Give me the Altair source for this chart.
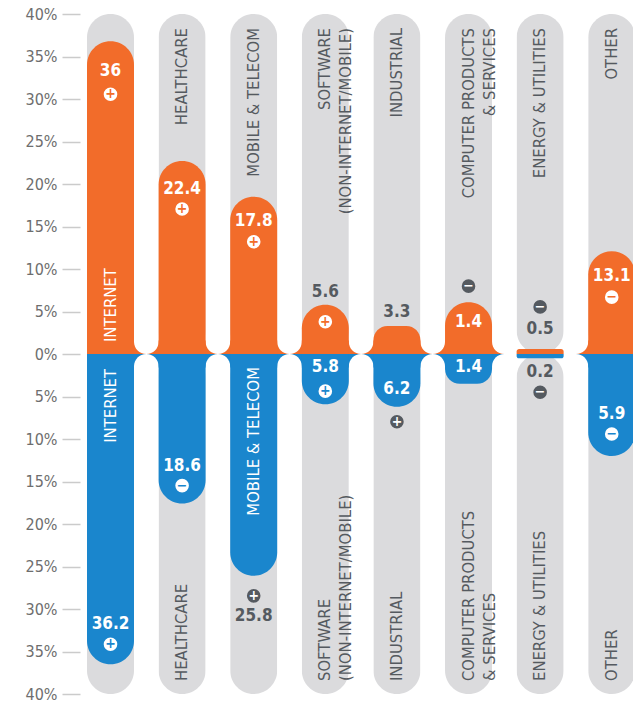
import altair as alt
import pandas as pd

# ---------------- data ----------------
categories = ["INTERNET", "HEALTHCARE", "MOBILE & TELECOM",
              "SOFTWARE\n(NON-INTERNET/MOBILE)", "INDUSTRIAL",
              "COMPUTER PRODUCTS\n& SERVICES", "ENERGY & UTILITIES", "OTHER"]
upper_values = [36, 22.4, 17.8, 5.6, 3.3, 1.4, 0.5, 13.1]
lower_values = [36.2, 18.6, 25.8, 5.8, 6.2, 1.4, 0.2, 5.9]
# bar lengths as drawn in the picture (percent)
upper_drawn = [36.8, 22.7, 18.5, 5.8, 3.3, 6.1, 0.6, 12.1]
lower_drawn = [36.5, 17.6, 26.1, 5.9, 6.2, 3.5, 0.5, 12.0]
upper_sign = ["+", "+", "+", "+", "", "−", "−", "−"]
lower_sign = ["+", "−", "+", "+", "+", "", "−", "−"]
tick_values = list(range(-40, 41, 5))

# ---------------- style ----------------
FONT = "'DejaVu Sans Condensed', 'Liberation Sans Narrow', Roboto, sans-serif"
ORANGE = "#F26C2A"
BLUE = "#1A86CD"
GRAY = "#DBDBDD"
DARK = "#555A60"
WHITE = "#FFFFFF"

X_MIN, X_MAX = -0.426, 7.297
Y_MIN, Y_MAX = -40, 40
PLOT_W, PLOT_H = 553, 680
PX = PLOT_W / (X_MAX - X_MIN)          # pixels per column step
PY = PLOT_H / (Y_MAX - Y_MIN)          # pixels per percent
COL_W = 47
HW = COL_W / 2 / PX                    # half column width in index units
GAP_R = (1 - 2 * HW) * PX / 2
BAND = 1.6

# label placement (screen px offset from bar end, + is down)
upper_text_dy = [30, 28, 24, -13, -14, 20, -20, 25]
upper_icon_dy = [53, 48, 45, 17, None, -16, -42, 46]
upper_text_in = [True, True, True, False, False, True, False, True]
upper_icon_in = [True, True, True, True, None, False, False, True]
lower_text_dy = [-40, -38, 40, -37, -18, -17, 14, -42]
lower_icon_dy = [-20, -18, 20, -13, 15, None, 34, -22]
lower_text_in = [True, True, False, True, True, True, False, True]
lower_icon_in = [True, True, False, True, False, None, False, True]

xs = alt.Scale(domain=[X_MIN, X_MAX], nice=False, zero=False)
ys = alt.Scale(domain=[Y_MIN, Y_MAX], nice=False, zero=False)

yaxis = alt.Axis(values=tick_values, labelExpr="abs(datum.value) + '%'", domain=False,
                 grid=False, ticks=True, tickSize=18, tickColor="#CBCBCB", tickWidth=1.5,
                 labelPadding=5, labelFontSize=16, labelColor="#6E6E6E", labelFont=FONT,
                 title=None)


def X(f):
    return alt.X(f, type="quantitative", scale=xs, axis=None)


def Y(f):
    return alt.Y(f, type="quantitative", scale=ys, axis=yaxis)


n = len(categories)
idx = list(range(n))

# gray stadium columns (upper and lower)
gray_rows = []
for i in idx:
    gray_rows.append({"x1": i - HW, "x2": i + HW, "y1": 0, "y2": Y_MAX})
    gray_rows.append({"x1": i - HW, "x2": i + HW, "y1": Y_MIN, "y2": 0})
gray_df = pd.DataFrame(gray_rows)

# fillet bands at the zero line
band_rows = []
for i in idx:
    lo = i - HW if i == 0 else i - 0.5
    hi = i + 0.5
    if upper_drawn[i] > 1:
        band_rows.append({"x1": lo, "x2": hi, "y1": 0, "y2": min(upper_drawn[i], BAND), "c": ORANGE})
    if lower_drawn[i] > 1:
        band_rows.append({"x1": lo, "x2": hi, "y1": -min(lower_drawn[i], BAND), "y2": 0, "c": BLUE})
band_df = pd.DataFrame(band_rows)

gap_rows = []
for g in range(n - 1):
    gap_rows.append({"x1": g + HW, "x2": g + 1 - HW, "y1": 0, "y2": Y_MAX})
    gap_rows.append({"x1": g + HW, "x2": g + 1 - HW, "y1": Y_MIN, "y2": 0})
gap_df = pd.DataFrame(gap_rows)

up_df = pd.DataFrame({"x1": [i - HW for i in idx], "x2": [i + HW for i in idx],
                      "y1": 0, "y2": upper_drawn})
lo_df = pd.DataFrame({"x1": [i - HW for i in idx], "x2": [i + HW for i in idx],
                      "y1": [-v for v in lower_drawn], "y2": 0})

# value labels and +/- icons
val_rows = []
icon_rows = []
for i in idx:
    val_rows.append({"i": i, "y": upper_drawn[i], "dy": upper_text_dy[i],
                     "t": f"{upper_values[i]:g}", "c": WHITE if upper_text_in[i] else DARK})
    val_rows.append({"i": i, "y": -lower_drawn[i], "dy": lower_text_dy[i],
                     "t": f"{lower_values[i]:g}", "c": WHITE if lower_text_in[i] else DARK})
    if upper_sign[i]:
        inside = upper_icon_in[i]
        icon_rows.append({"i": i, "y": upper_drawn[i], "dy": upper_icon_dy[i], "s": upper_sign[i],
                          "f": WHITE if inside else DARK, "sc": ORANGE if inside else WHITE})
    if lower_sign[i]:
        inside = lower_icon_in[i]
        icon_rows.append({"i": i, "y": -lower_drawn[i], "dy": lower_icon_dy[i], "s": lower_sign[i],
                          "f": WHITE if inside else DARK, "sc": BLUE if inside else WHITE})
val_df = pd.DataFrame(val_rows)
icon_df = pd.DataFrame(icon_rows)

# category labels
right_rows, left_rows = [], []
for i in idx:
    if i == 0:
        left_rows.append({"i": i, "y": 0, "dy": -12, "t": categories[i], "c": WHITE})
    else:
        right_rows.append({"i": i, "y": Y_MAX, "dy": 14, "t": categories[i], "c": DARK})
    if i == 0:
        right_rows.append({"i": i, "y": 0, "dy": 15, "t": categories[i], "c": WHITE})
    elif i == 2:
        right_rows.append({"i": i, "y": 0, "dy": 13, "t": categories[i], "c": WHITE})
    else:
        left_rows.append({"i": i, "y": Y_MIN, "dy": -13, "t": categories[i], "c": DARK})
right_df = pd.DataFrame(right_rows)
left_df = pd.DataFrame(left_rows)


def rect_layer(df, color_field=False, **kw):
    enc = dict(x=X("x1"), x2="x2", y=Y("y1"), y2="y2")
    if color_field:
        enc["color"] = alt.Color("c:N", scale=None)
    return alt.Chart(df).mark_rect(**kw).encode(**enc)


gray = rect_layer(gray_df, color=GRAY, cornerRadius=COL_W / 2)
bands = rect_layer(band_df, color_field=True)
gaps = rect_layer(gap_df, color=WHITE, cornerRadius=GAP_R)
up_bars = rect_layer(up_df, color=ORANGE, cornerRadiusTopLeft=COL_W / 2,
                     cornerRadiusTopRight=COL_W / 2)
lo_bars = rect_layer(lo_df, color=BLUE, cornerRadiusBottomLeft=COL_W / 2,
                     cornerRadiusBottomRight=COL_W / 2)


def placed(df):
    # anchor = bar end shifted by a pixel offset, converted to data units
    return alt.Chart(df).transform_calculate(yp=f"datum.y - datum.dy / {PY}")


def texts(df, **kw):
    return placed(df).mark_text(**kw).encode(
        x=X("i"), y=Y("yp"), text="t:N", color=alt.Color("c:N", scale=None))


values = texts(val_df, font=FONT, fontSize=17, fontWeight="bold", baseline="middle", align="center")
cat_r = texts(right_df, font=FONT, fontSize=16.5, angle=270, align="right", baseline="middle",
              lineBreak="\n", lineHeight=21)
cat_l = texts(left_df, font=FONT, fontSize=16.5, angle=270, align="left", baseline="middle",
              lineBreak="\n", lineHeight=21)

icons = placed(icon_df).mark_circle(size=185, opacity=1).encode(
    x=X("i"), y=Y("yp"), color=alt.Color("f:N", scale=None))
signs = placed(icon_df).mark_text(font=FONT, fontSize=14, fontWeight="bold",
                                  baseline="middle", align="center").encode(
    x=X("i"), y=Y("yp"), text="s:N", color=alt.Color("sc:N", scale=None))

chart = alt.layer(gray, bands, gaps, up_bars, lo_bars, values, cat_r, cat_l, icons, signs).properties(
    width=PLOT_W, height=PLOT_H,
    padding={"left": 80, "top": 14, "right": 0, "bottom": 10},
    autosize=alt.AutoSizeParams(type="none"),
    background="white",
).configure_view(stroke=None)

chart.save("out.html", embed_options={"renderer": "svg", "actions": False})
